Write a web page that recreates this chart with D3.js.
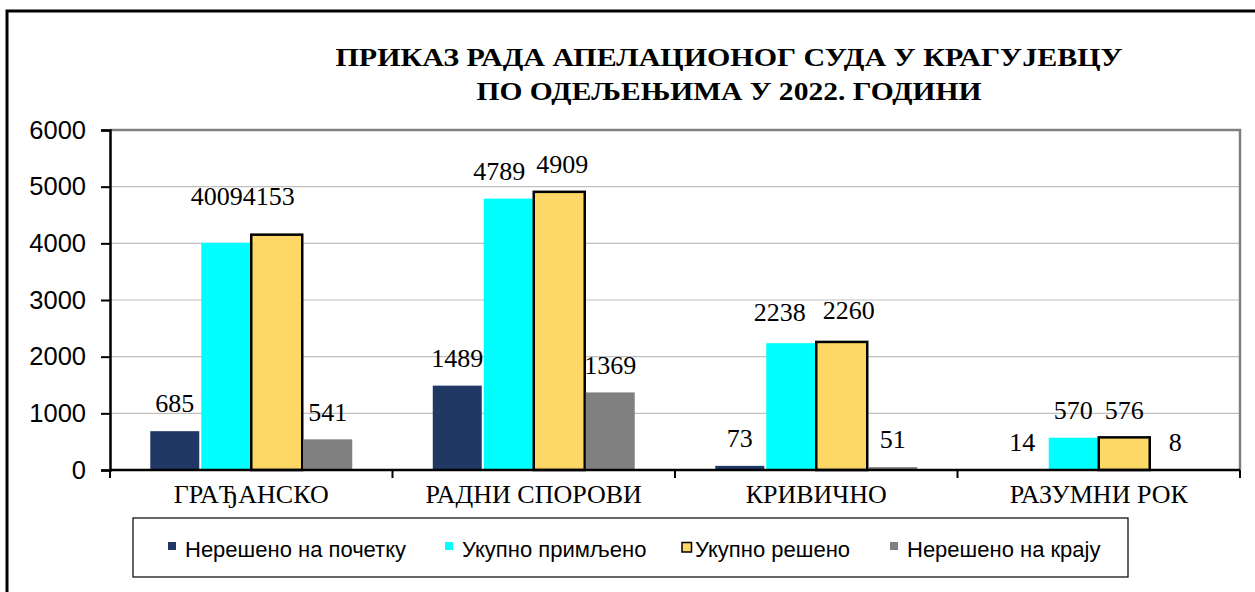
<!DOCTYPE html>
<html>
<head>
<meta charset="utf-8">
<script src="https://cdn.jsdelivr.net/npm/d3@7"></script>
<style>
  body { margin: 0; background: #fff; }
  svg { display: block; }
</style>
</head>
<body>
<svg id="chart" width="1255" height="592"></svg>
<script>
const categories = ["ГРАЂАНСКО", "РАДНИ СПОРОВИ", "КРИВИЧНО", "РАЗУМНИ РОК"];
const seriesNames = ["Нерешено на почетку", "Укупно примљено", "Укупно решено", "Нерешено на крају"];
const unresolvedStart = [685, 1489, 73, 14];
const received = [4009, 4789, 2238, 570];
const resolved = [4153, 4909, 2260, 576];
const unresolvedEnd = [541, 1369, 51, 8];
const yTicks = [0, 1000, 2000, 3000, 4000, 5000, 6000];
const titleLines = ["ПРИКАЗ РАДА АПЕЛАЦИОНОГ СУДА У КРАГУЈЕВЦУ", "ПО ОДЕЉЕЊИМА У 2022. ГОДИНИ"];

const colors = ["#203864", "#00ffff", "#fdd867", "#808080"];
const serif = "'Liberation Serif', 'Times New Roman', serif";
const sans = "'Liberation Sans', Arial, sans-serif";

// some labels were moved by hand in the original
const labelShift = {
  "0-1": { dx: -9, dy: -19 }, "0-2": { dx: -8, dy: -11 },
  "1-1": { dx: -9, dy: 0 }, "1-2": { dx: 3, dy: 0 },
  "2-1": { dx: -11, dy: -3 }, "2-2": { dx: 7, dy: -4 }
};

const allSeries = [unresolvedStart, received, resolved, unresolvedEnd];
const data = categories.map((c, ci) => ({
  cat: c,
  values: allSeries.map((s, si) => ({ ci, si, value: s[ci] }))
}));

const svg = d3.select("#chart");
const plot = { left: 110, right: 1240, top: 130, bottom: 470 };

// outer frame
svg.append("rect")
  .attr("x", 7).attr("y", 11)
  .attr("width", 1400).attr("height", 800)
  .attr("fill", "none").attr("stroke", "#000").attr("stroke-width", 3);

// title (the original bold face is wider, so stretch to its width)
const titleWidths = [787, 505];
svg.append("g")
  .attr("font-family", serif)
  .attr("font-weight", "bold")
  .attr("font-size", 26)
  .selectAll("text")
  .data(titleLines)
  .join("text")
  .attr("x", (d, i) => 729 - titleWidths[i] / 2)
  .attr("y", (d, i) => 66 + i * 34)
  .attr("textLength", (d, i) => titleWidths[i])
  .attr("lengthAdjust", "spacingAndGlyphs")
  .text(d => d);

const x = d3.scaleBand().domain(categories).range([plot.left, plot.right]);
const xs = d3.scaleBand().domain(d3.range(4)).range([0, x.bandwidth()])
  .paddingInner(0).paddingOuter(0.77);
const y = d3.scaleLinear().domain([0, 6000]).range([plot.bottom, plot.top]);

// gridlines
svg.append("g")
  .selectAll("line")
  .data(yTicks.filter(t => t > 0 && t < 6000))
  .join("line")
  .attr("x1", plot.left).attr("x2", plot.right)
  .attr("y1", d => y(d)).attr("y2", d => y(d))
  .attr("stroke", "#c0c0c0").attr("stroke-width", 1.2);

// plot area border (top + right)
svg.append("path")
  .attr("d", `M${plot.left},${y(6000)}H${plot.right}V${plot.bottom}`)
  .attr("fill", "none").attr("stroke", "#808080").attr("stroke-width", 2.5);

// bars
const groups = svg.append("g")
  .selectAll("g")
  .data(data)
  .join("g")
  .attr("transform", d => `translate(${x(d.cat)},0)`);

groups.selectAll("rect")
  .data(d => d.values)
  .join("rect")
  .attr("x", d => xs(d.si) + (d.si === 2 ? 0 : 1))
  .attr("width", d => xs.bandwidth() - (d.si === 2 ? 0 : 2))
  .attr("y", d => y(d.value))
  .attr("height", d => y(0) - y(d.value))
  .attr("fill", d => colors[d.si])
  .attr("stroke", d => d.si === 2 ? "#000" : "none")
  .attr("stroke-width", 2.5);

// value labels
groups.selectAll("text")
  .data(d => d.values)
  .join("text")
  .attr("x", d => xs(d.si) + xs.bandwidth() / 2 + (labelShift[d.ci + "-" + d.si] || { dx: 0 }).dx)
  .attr("y", d => y(d.value) - 18.7 + (labelShift[d.ci + "-" + d.si] || { dy: 0 }).dy)
  .attr("text-anchor", "middle")
  .attr("font-family", serif)
  .attr("font-size", 26)
  .attr("fill", "#000")
  .text(d => d.value);

// y axis
const yAxis = svg.append("g")
  .attr("transform", `translate(${plot.left},0)`)
  .call(d3.axisLeft(y).tickValues(yTicks).tickSize(9).tickPadding(15).tickFormat(d3.format("d")));
yAxis.select(".domain").attr("stroke", "#000").attr("stroke-width", 2.5);
yAxis.selectAll(".tick line").attr("stroke", "#000").attr("stroke-width", 2);
yAxis.selectAll(".tick text")
  .attr("font-family", sans).attr("font-size", 25.5).attr("fill", "#000");

// x axis
const boundaries = categories.map(c => x(c)).concat([plot.right]);
svg.append("line")
  .attr("x1", plot.left).attr("x2", plot.right)
  .attr("y1", plot.bottom).attr("y2", plot.bottom)
  .attr("stroke", "#000").attr("stroke-width", 2.5);
svg.append("g")
  .selectAll("line")
  .data(boundaries)
  .join("line")
  .attr("x1", d => d).attr("x2", d => d)
  .attr("y1", plot.bottom).attr("y2", plot.bottom + 8)
  .attr("stroke", "#000").attr("stroke-width", 2);

svg.append("g")
  .selectAll("text")
  .data(categories)
  .join("text")
  .attr("x", d => x(d) + x.bandwidth() / 2)
  .attr("y", 503)
  .attr("text-anchor", "middle")
  .attr("font-family", serif)
  .attr("font-size", 26)
  .attr("fill", "#000")
  .text(d => d);

// legend
const legend = svg.append("g");
legend.append("rect")
  .attr("x", 133).attr("y", 518)
  .attr("width", 995).attr("height", 59)
  .attr("fill", "#fff").attr("stroke", "#000").attr("stroke-width", 1.2);

const legendX = [168, 445, 682, 890];
const items = legend.selectAll("g.item")
  .data(seriesNames)
  .join("g")
  .attr("class", "item")
  .attr("transform", (d, i) => `translate(${legendX[i]},0)`);

items.append("rect")
  .attr("y", (d, i) => i === 2 ? 542.5 : 542)
  .attr("width", (d, i) => i === 2 ? 9.5 : 8)
  .attr("height", (d, i) => i === 2 ? 9.5 : 8)
  .attr("fill", (d, i) => colors[i])
  .attr("stroke", (d, i) => i === 2 ? "#000" : "none")
  .attr("stroke-width", 1.5);

items.append("text")
  .attr("x", (d, i) => i === 2 ? 13 : 17)
  .attr("y", 557)
  .attr("font-family", sans)
  .attr("font-size", 22)
  .attr("fill", "#000")
  .text(d => d);
</script>
</body>
</html>
